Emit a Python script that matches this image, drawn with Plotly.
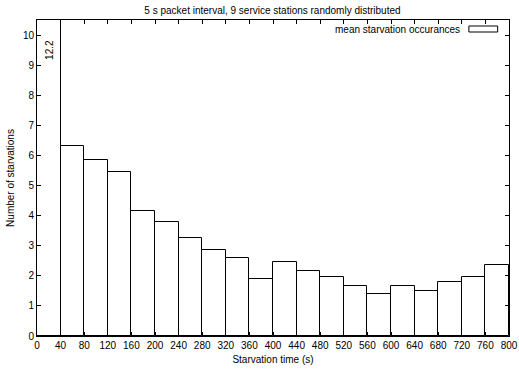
import plotly.graph_objects as go

bin_starts = [0, 40, 80, 120, 160, 200, 240, 280, 320, 360, 400, 440, 480, 520, 560, 600, 640, 680, 720, 760]
bin_width = 40
values = [12.2, 6.30, 5.85, 5.46, 4.14, 3.80, 3.25, 2.85, 2.60, 1.89, 2.46, 2.16, 1.95, 1.65, 1.40, 1.65, 1.51, 1.80, 1.95, 2.35]
centers = [s + bin_width / 2 for s in bin_starts]

FONT = "Liberation Sans, Arial, Helvetica, sans-serif"

fig = go.Figure()
fig.add_trace(go.Bar(
    x=centers, y=values, width=[bin_width] * len(values),
    marker=dict(color="white", line=dict(color="black", width=1)),
    name="mean starvation occurances", showlegend=False,
))

# label of the clipped first bar
fig.add_annotation(x=centers[0], y=9.5, text=f"{values[0]}", textangle=-90,
                   showarrow=False, font=dict(size=10, color="black", family=FONT))

# gnuplot-style legend (key) inside the top-right corner
fig.add_annotation(xref="paper", yref="paper", x=0.9, y=0.971, xanchor="right", yanchor="middle",
                   text="mean starvation occurances", showarrow=False,
                   font=dict(size=10, color="black", family=FONT))
fig.add_shape(type="rect", xref="paper", yref="paper", x0=0.915, x1=0.976, y0=0.962, y1=0.981,
              line=dict(color="black", width=1), fillcolor="white")

axis_common = dict(showline=True, linecolor="black", linewidth=1, mirror="allticks",
                   ticks="inside", ticklen=4, tickcolor="black", showgrid=False, zeroline=False,
                   automargin=False,
                   tickfont=dict(size=10, color="black", family=FONT))

fig.update_layout(
    width=519, height=372,
    margin=dict(l=37, r=10, t=20, b=36),
    paper_bgcolor="white", plot_bgcolor="white",
    bargap=0,
    title=dict(text="5 s packet interval, 9 service stations randomly distributed",
               x=0.525, xanchor="center", y=0.972, yanchor="middle",
               font=dict(size=10, color="black", family=FONT)),
    xaxis=dict(range=[0, 800], tickmode="linear", tick0=0, dtick=40,
               title=dict(text="Starvation time (s)", standoff=5,
                          font=dict(size=10, color="black", family=FONT)),
               **axis_common),
    yaxis=dict(range=[0, 10.5], tickmode="linear", tick0=0, dtick=1,
               title=dict(text="Number of starvations", standoff=6,
                          font=dict(size=10, color="black", family=FONT)),
               **axis_common),
    font=dict(family=FONT, color="black"),
)

fig.write_html("out.html")
